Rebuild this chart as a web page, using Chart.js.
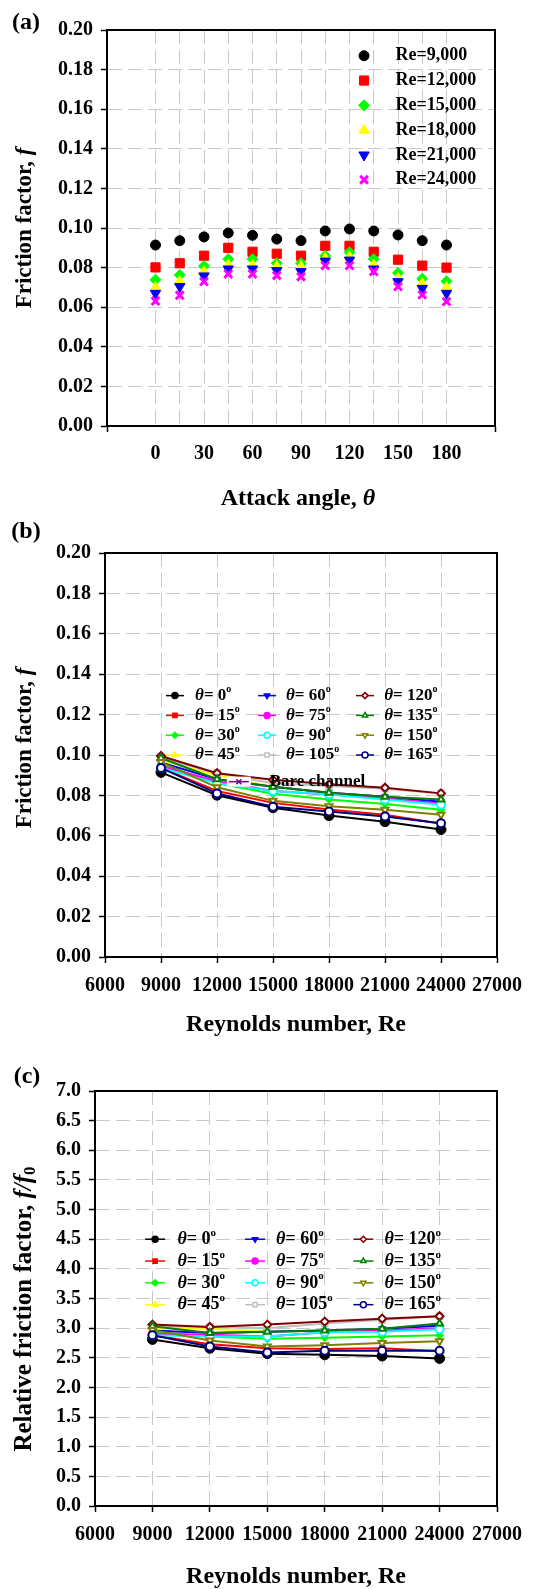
<!DOCTYPE html>
<html>
<head>
<meta charset="utf-8">
<script src="https://cdn.jsdelivr.net/npm/chart.js@4.4.1/dist/chart.umd.min.js"></script>
<style>
  body { margin: 0; background: #fff; width: 540px; height: 1589px; position: relative; overflow: hidden; }
  canvas { position: absolute; left: 0; }
</style>
</head>
<body>
<canvas id="chartA" width="540" height="515" style="top:0"></canvas>
<canvas id="chartB" width="540" height="530" style="top:515px"></canvas>
<canvas id="chartC" width="540" height="544" style="top:1045px"></canvas>
<script>
// ---- data ----
const attackAngles = [0, 15, 30, 45, 60, 75, 90, 105, 120, 135, 150, 165, 180];
const reynolds = [9000, 12000, 15000, 18000, 21000, 24000];

// (a) friction factor vs attack angle, one array per Re
const fRe9000  = [0.0914, 0.0936, 0.0955, 0.0975, 0.0963, 0.0944, 0.0936, 0.0985, 0.0995, 0.0985, 0.0965, 0.0936, 0.0914];
const fRe12000 = [0.0801, 0.0822, 0.0860, 0.0900, 0.0880, 0.0870, 0.0860, 0.0910, 0.0910, 0.0880, 0.0840, 0.0810, 0.0800];
const fRe15000 = [0.0739, 0.0763, 0.0808, 0.0843, 0.0843, 0.0822, 0.0822, 0.0860, 0.0877, 0.0843, 0.0773, 0.0744, 0.0731];
const fRe18000 = [0.0700, 0.0730, 0.0780, 0.0813, 0.0813, 0.0805, 0.0805, 0.0847, 0.0855, 0.0813, 0.0746, 0.0720, 0.0700];
const fRe21000 = [0.0670, 0.0704, 0.0758, 0.0793, 0.0793, 0.0785, 0.0780, 0.0833, 0.0838, 0.0793, 0.0729, 0.0695, 0.0670];
const fRe24000 = [0.0631, 0.0660, 0.0729, 0.0768, 0.0768, 0.0760, 0.0754, 0.0810, 0.0810, 0.0780, 0.0704, 0.0662, 0.0628];

// (b) uses the same f values, angles 0..165 only
const lineAngles = [0, 15, 30, 45, 60, 75, 90, 105, 120, 135, 150, 165];

// (c) relative friction factor f/f0, one array per angle
const relTheta0   = [2.81, 2.66, 2.57, 2.55, 2.53, 2.49];
const relTheta15  = [2.88, 2.73, 2.66, 2.65, 2.66, 2.61];
const relTheta30  = [2.94, 2.86, 2.82, 2.84, 2.86, 2.88];
const relTheta45  = [3.00, 2.99, 2.94, 2.96, 2.99, 3.04];
const relTheta60  = [2.96, 2.92, 2.94, 2.96, 2.99, 3.04];
const relTheta75  = [2.90, 2.89, 2.86, 2.93, 2.96, 3.00];
const relTheta90  = [2.88, 2.86, 2.86, 2.93, 2.94, 2.98];
const relTheta105 = [3.03, 3.02, 3.00, 3.08, 3.14, 3.20];
const relTheta120 = [3.06, 3.02, 3.06, 3.11, 3.16, 3.20];
const relTheta135 = [3.03, 2.92, 2.94, 2.96, 2.99, 3.08];
const relTheta150 = [2.97, 2.79, 2.69, 2.71, 2.75, 2.78];
const relTheta165 = [2.88, 2.69, 2.59, 2.62, 2.62, 2.62];

// ---- styles ----
const SERIF = '"Liberation Serif", "Times New Roman", serif';
const GRID = '#c8c8c8';
const TICK_SIZE = 20;

const reSeries = [
    { label: 'Re=9,000',  data: fRe9000,  color: '#000000', style: 'circle',   radius: 5 },
    { label: 'Re=12,000', data: fRe12000, color: '#ff0000', style: 'rect',     radius: 6.5 },
    { label: 'Re=15,000', data: fRe15000, color: '#00ff00', style: 'rectRot',  radius: 5.5 },
    { label: 'Re=18,000', data: fRe18000, color: '#ffff00', style: 'triangle', radius: 6 },
    { label: 'Re=21,000', data: fRe21000, color: '#0000ff', style: 'triangle', radius: 6, rotation: 180 },
    { label: 'Re=24,000', data: fRe24000, color: '#ff00ff', style: 'crossRot', radius: 5.5, width: 3 }
];

const angleStyles = [
    { color: '#000000', style: 'circle' },
    { color: '#ff0000', style: 'rect' },
    { color: '#00ff00', style: 'rectRot' },
    { color: '#ffff00', style: 'triangle' },
    { color: '#0000ff', style: 'triangle', rotation: 180 },
    { color: '#ff00ff', style: 'circle' },
    { color: '#00ffff', style: 'circle', open: true },
    { color: '#c0c0c0', style: 'rect', open: true },
    { color: '#800000', style: 'rectRot', open: true },
    { color: '#008000', style: 'triangle', open: true },
    { color: '#808000', style: 'triangle', rotation: 180, open: true },
    { color: '#000080', style: 'circle', open: true }
];
const relSeries = [relTheta0, relTheta15, relTheta30, relTheta45, relTheta60, relTheta75,
                   relTheta90, relTheta105, relTheta120, relTheta135, relTheta150, relTheta165];
const fByRe = [fRe9000, fRe12000, fRe15000, fRe18000, fRe21000, fRe24000];

// ---- helpers ----
function drawRich(ctx, parts, x, y, opts) {
    opts = opts || {};
    ctx.save();
    ctx.translate(x, y);
    if (opts.rot) ctx.rotate(opts.rot);
    ctx.textBaseline = 'middle';
    ctx.fillStyle = '#000';
    let total = 0;
    parts.forEach(p => { ctx.font = p.font; total += ctx.measureText(p.text).width; });
    let cx = opts.align === 'left' ? 0 : -total / 2;
    parts.forEach(p => {
        ctx.font = p.font;
        ctx.fillText(p.text, cx, p.dy || 0);
        cx += ctx.measureText(p.text).width;
    });
    ctx.restore();
}

function marker(ctx, st, x, y, radius, bw) {
    ctx.save();
    ctx.fillStyle = st.open ? '#ffffff' : st.color;
    ctx.strokeStyle = st.color;
    ctx.lineWidth = bw;
    Chart.helpers.drawPoint(ctx, { pointStyle: st.style, radius: radius, rotation: st.rotation || 0, borderWidth: bw }, x, y);
    ctx.restore();
}

function thetaLabel(angle, size) {
    return [
        { text: 'θ', font: `italic bold ${size}px ${SERIF}` },
        { text: '= ' + angle, font: `bold ${size}px ${SERIF}` },
        { text: 'o', font: `bold ${Math.round(size * 0.6)}px ${SERIF}`, dy: -size * 0.35 }
    ];
}

function decor(texts, legend) {
    return {
        id: 'decor',
        afterDraw(chart) {
            const { ctx, chartArea: a } = chart;
            if (legend) legend(chart);
            ctx.save();
            ctx.strokeStyle = '#000';
            ctx.lineWidth = 2;
            ctx.strokeRect(a.left, a.top, a.right - a.left, a.bottom - a.top);
            ctx.restore();
            texts.forEach(t => drawRich(ctx, t.parts, t.x, t.y, t));
        }
    };
}

function yAxis(min, max, step, digits, width) {
    return {
        type: 'linear', min: min, max: max,
        afterFit: s => { s.width = width; },
        ticks: { stepSize: step, padding: 8, color: '#000', font: { family: SERIF, weight: 'bold', size: TICK_SIZE },
                 callback: v => v.toFixed(digits) },
        grid: { color: GRID, lineWidth: 1, tickColor: '#000', tickLength: 6, tickWidth: 1.5 },
        border: { color: '#000', width: 2, dash: [14, 6] }
    };
}

function reAxis(height) {
    return {
        type: 'linear', min: 6000, max: 27000,
        afterFit: s => { s.height = height; },
        ticks: { stepSize: 3000, autoSkip: false, maxRotation: 0, padding: 11, color: '#000',
                 font: { family: SERIF, weight: 'bold', size: TICK_SIZE }, callback: v => String(v) },
        grid: { color: GRID, lineWidth: 1, tickColor: '#000', tickLength: 6, tickWidth: 1.5 },
        border: { color: '#000', width: 2, dash: [14, 6] }
    };
}

const baseOptions = {
    responsive: false,
    animation: false,
    events: [],
    plugins: { legend: { display: false }, tooltip: { enabled: false } }
};

// ---- chart (a) ----
new Chart(document.getElementById('chartA'), {
    type: 'scatter',
    data: {
        datasets: reSeries.map((s, i) => ({
            label: s.label,
            data: attackAngles.map((a, j) => ({ x: a, y: s.data[j] })),
            backgroundColor: s.color,
            borderColor: s.color,
            pointStyle: s.style,
            pointRotation: s.rotation || 0,
            pointRadius: s.radius,
            pointBorderWidth: s.width || 1,
            order: -i
        }))
    },
    options: Object.assign({}, baseOptions, {
        layout: { padding: { top: 30, right: 45, left: 0, bottom: 0 } },
        scales: {
            x: {
                type: 'linear', min: -30, max: 210,
                afterFit: s => { s.height = 89; },
                ticks: {
                    stepSize: 15, autoSkip: false, maxRotation: 0, padding: 10, color: '#000',
                    font: { family: SERIF, weight: 'bold', size: TICK_SIZE },
                    callback: v => (v >= 0 && v <= 180 && v % 30 === 0) ? String(v) : ''
                },
                grid: {
                    color: c => (c.tick && c.tick.value >= 0 && c.tick.value <= 180) ? GRID : 'rgba(0,0,0,0)',
                    tickColor: c => (c.tick && (c.tick.value === -30 || c.tick.value === 210)) ? '#000' : 'rgba(0,0,0,0)',
                    tickLength: 6, tickWidth: 1.5
                },
                border: { color: '#000', width: 2, dash: [14, 6] }
            },
            y: yAxis(0, 0.2, 0.02, 2, 107)
        }
    }),
    plugins: [decor([
        { parts: [{ text: '(a)', font: `bold 24px ${SERIF}` }], x: 26, y: 23 },
        { parts: [{ text: 'Friction factor, ', font: `bold 23px ${SERIF}` }, { text: 'f', font: `italic bold 23px ${SERIF}` }],
          x: 25, y: 228, rot: -Math.PI / 2 },
        { parts: [{ text: 'Attack angle, ', font: `bold 24px ${SERIF}` }, { text: 'θ', font: `italic bold 24px ${SERIF}` }],
          x: 298, y: 499 }
    ], chart => {
        const { ctx, scales: { x, y } } = chart;
        reSeries.forEach((s, i) => {
            const py = y.getPixelForValue(0.187 - i * 0.01253);
            marker(ctx, s, x.getPixelForValue(129), py, s.radius, s.width || 1);
            drawRich(ctx, [{ text: s.label, font: `bold 18px ${SERIF}` }], x.getPixelForValue(148.5), py, { align: 'left' });
        });
    })]
});

// ---- chart (b) ----
new Chart(document.getElementById('chartB'), {
    type: 'scatter',
    data: {
        datasets: lineAngles.map((ang, i) => {
            const st = angleStyles[i];
            return {
                label: 'θ = ' + ang,
                data: reynolds.map((re, j) => ({ x: re, y: fByRe[j][i] })),
                showLine: true,
                borderColor: st.color,
                borderWidth: 2,
                backgroundColor: st.open ? '#ffffff' : st.color,
                pointStyle: st.style,
                pointRotation: st.rotation || 0,
                pointRadius: i === 0 ? 5 : 4,
                pointBorderWidth: st.open ? 2 : 1,
                order: -i
            };
        })
    },
    options: Object.assign({}, baseOptions, {
        layout: { padding: { top: 38, right: 43, left: 0, bottom: 0 } },
        scales: { x: reAxis(88), y: yAxis(0, 0.2, 0.02, 2, 105) }
    }),
    plugins: [decor([
        { parts: [{ text: '(b)', font: `bold 24px ${SERIF}` }], x: 26, y: 17 },
        { parts: [{ text: 'Friction factor, ', font: `bold 23px ${SERIF}` }, { text: 'f', font: `italic bold 23px ${SERIF}` }],
          x: 25, y: 233, rot: -Math.PI / 2 },
        { parts: [{ text: 'Reynolds number, Re', font: `bold 24px ${SERIF}` }], x: 296, y: 510 }
    ], chart => {
        const { ctx, scales: { x, y } } = chart;
        const colX = [9747, 14684, 19930], labX = [10825, 15690, 20955];
        lineAngles.forEach((ang, i) => {
            const col = Math.floor(i / 4), row = i % 4;
            const st = angleStyles[i];
            const mx = x.getPixelForValue(colX[col]), py = y.getPixelForValue(0.1294 - row * 0.0098);
            ctx.save();
            ctx.strokeStyle = st.color; ctx.lineWidth = 1.5;
            ctx.beginPath(); ctx.moveTo(mx - 9, py); ctx.lineTo(mx + 9, py); ctx.stroke();
            ctx.restore();
            marker(ctx, st, mx, py, 3, 1.5);
            drawRich(ctx, thetaLabel(ang, 17), x.getPixelForValue(labX[col]), py, { align: 'left' });
        });
        // stray "Bare channel" key
        const bx = x.getPixelForValue(13171), by = y.getPixelForValue(0.0868);
        ctx.save();
        ctx.fillStyle = '#ffffff';
        ctx.fillRect(bx - 12, by - 5, 24, 10);
        ctx.strokeStyle = '#800080'; ctx.lineWidth = 1.5;
        ctx.beginPath(); ctx.moveTo(bx - 10, by); ctx.lineTo(bx + 10, by); ctx.stroke();
        ctx.restore();
        marker(ctx, { color: '#800080', style: 'crossRot' }, bx, by, 3.5, 1.5);
        drawRich(ctx, [{ text: 'Bare channel', font: `bold 17px ${SERIF}` }], x.getPixelForValue(14823), by, { align: 'left' });
    })]
});

// ---- chart (c) ----
new Chart(document.getElementById('chartC'), {
    type: 'scatter',
    data: {
        datasets: lineAngles.map((ang, i) => {
            const st = angleStyles[i];
            return {
                label: 'θ = ' + ang,
                data: reynolds.map((re, j) => ({ x: re, y: relSeries[i][j] })),
                showLine: true,
                borderColor: st.color,
                borderWidth: 2,
                backgroundColor: st.open ? '#ffffff' : st.color,
                pointStyle: st.style,
                pointRotation: st.rotation || 0,
                pointRadius: i === 0 ? 5 : 4,
                pointBorderWidth: st.open ? 2 : 1,
                order: -i
            };
        })
    },
    options: Object.assign({}, baseOptions, {
        layout: { padding: { top: 46, right: 43, left: 0, bottom: 0 } },
        scales: { x: reAxis(83), y: yAxis(0, 7, 0.5, 1, 95) }
    }),
    plugins: [decor([
        { parts: [{ text: '(c)', font: `bold 24px ${SERIF}` }], x: 27, y: 32 },
        { parts: [{ text: 'Relative friction factor, ', font: `bold 25px ${SERIF}` },
                  { text: 'f/f', font: `italic bold 25px ${SERIF}` },
                  { text: '0', font: `bold 17px ${SERIF}`, dy: 6 }],
          x: 25, y: 264, rot: -Math.PI / 2 },
        { parts: [{ text: 'Reynolds number, Re', font: `bold 24px ${SERIF}` }], x: 296, y: 532 }
    ], chart => {
        const { ctx, scales: { x, y } } = chart;
        const colX = [9140, 14360, 20020], labX = [10310, 15460, 21120];
        lineAngles.forEach((ang, i) => {
            const col = Math.floor(i / 4), row = i % 4;
            const st = angleStyles[i];
            const mx = x.getPixelForValue(colX[col]), py = y.getPixelForValue(4.5 - row * 0.368);
            ctx.save();
            ctx.strokeStyle = st.color; ctx.lineWidth = 1.5;
            ctx.beginPath(); ctx.moveTo(mx - 10, py); ctx.lineTo(mx + 10, py); ctx.stroke();
            ctx.restore();
            marker(ctx, st, mx, py, 3, 1.5);
            drawRich(ctx, thetaLabel(ang, 18), x.getPixelForValue(labX[col]), py, { align: 'left' });
        });
    })]
});
</script>
</body>
</html>
